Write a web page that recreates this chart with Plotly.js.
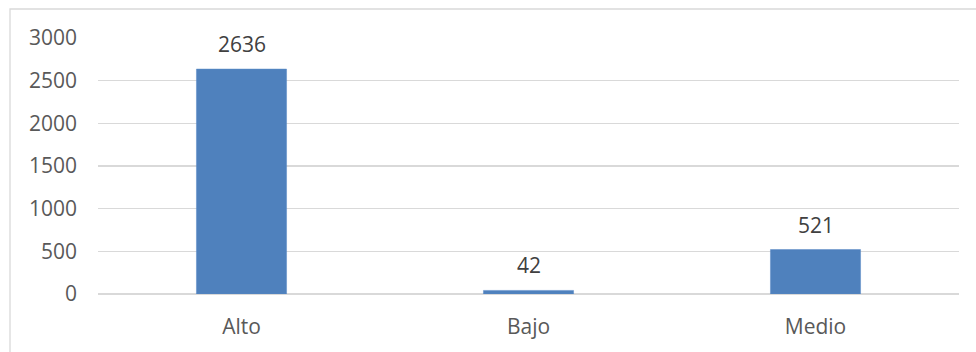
<!DOCTYPE html>
<html>
<head>
<meta charset="utf-8">
<script src="https://cdn.plot.ly/plotly-3.0.1.min.js"></script>
<style>html,body{margin:0;padding:0;background:#fff;}#chart{width:976px;height:352px;}</style>
</head>
<body>
<div id="chart"></div>
<script>
const categories = ["Alto", "Bajo", "Medio"];
const values = [2636, 42, 521];
const yTicks = [0, 500, 1000, 1500, 2000, 2500, 3000];

const trace = {
  type: 'bar',
  x: categories,
  y: values,
  marker: {color: '#4F81BD', line: {color: '#5B8BC6', width: 0.5}},
  width: 0.314,
  hoverinfo: 'none'
};

const annotations = categories.map((c, i) => ({
  x: c, y: values[i], xref: 'x', yref: 'y',
  text: String(values[i]), showarrow: false,
  yanchor: 'middle', yshift: 25,
  font: {family: 'Open Sans, sans-serif', size: 21, color: '#404040'}
}));

const layout = {
  width: 976, height: 352,
  margin: {l: 98, r: 17, t: 38, b: 58},
  paper_bgcolor: '#ffffff', plot_bgcolor: '#ffffff',
  showlegend: false,
  font: {family: 'Open Sans, sans-serif', size: 21, color: '#595959'},
  xaxis: {
    type: 'category', showgrid: false, zeroline: false, showline: false,
    ticks: '', tickfont: {size: 21, color: '#595959'}, ticklabelstandoff: 18
  },
  yaxis: {
    range: [0, 3000], tickvals: yTicks, ticktext: yTicks.map(String),
    showgrid: true, gridcolor: '#D9D9D9', gridwidth: 1.3,
    zeroline: true, zerolinecolor: '#D9D9D9', zerolinewidth: 1.3,
    showline: false, ticks: '', ticklabelstandoff: 20,
    tickfont: {size: 21, color: '#595959'}
  },
  shapes: [{
    type: 'rect', xref: 'paper', yref: 'paper', layer: 'below',
    x0: -0.1022, x1: 1.2, y0: -0.5, y1: 1.1133,
    line: {color: '#D9D9D9', width: 1.3}, fillcolor: 'rgba(0,0,0,0)'
  }],
  annotations: annotations
};

Plotly.newPlot('chart', [trace], layout, {displayModeBar: false, staticPlot: true});
</script>
</body>
</html>
